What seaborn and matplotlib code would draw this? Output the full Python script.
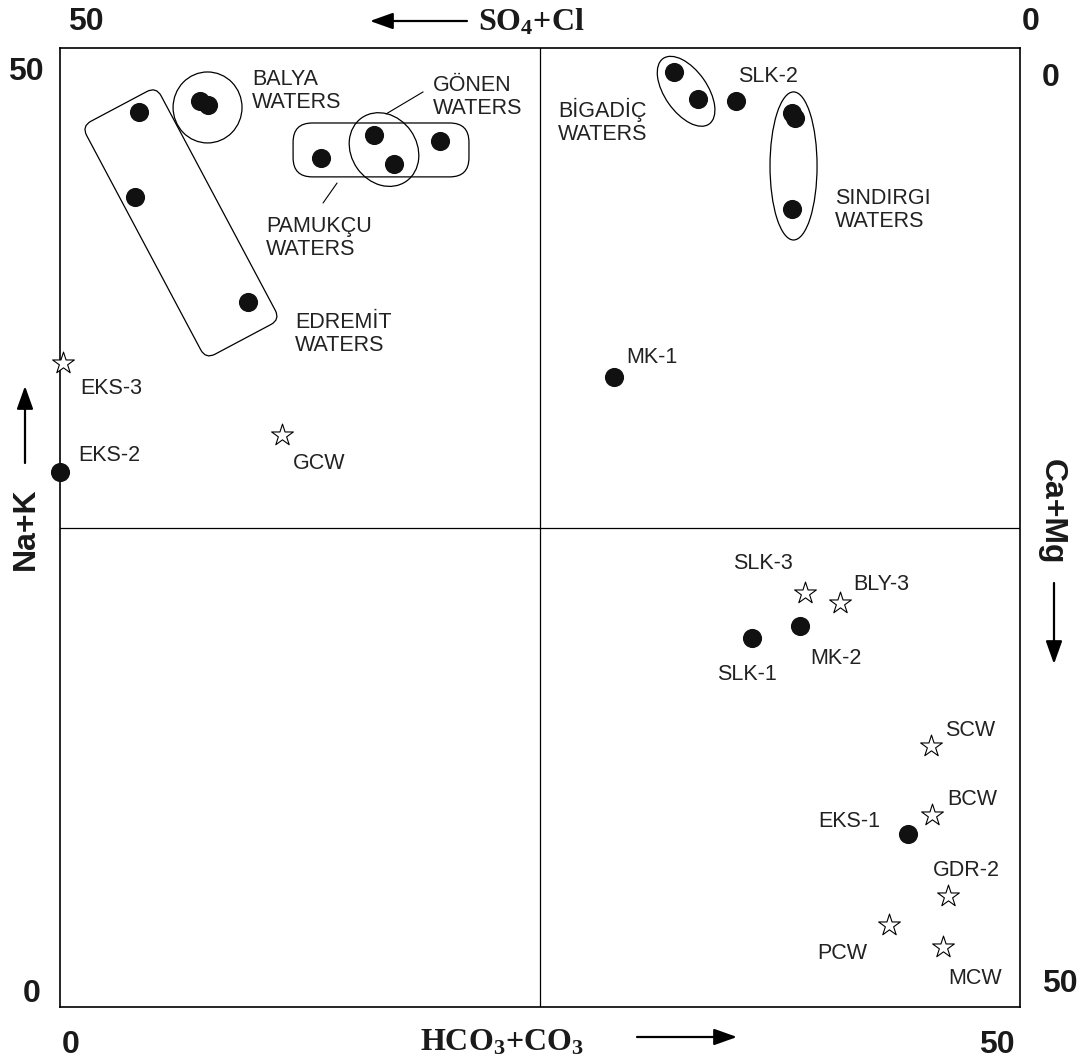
"""
plot.py - Na+K / Ca+Mg vs HCO3+CO3 / SO4+Cl diagram of thermal and cold waters
"""

import numpy as np
import pandas as pd
import matplotlib
matplotlib.use('Agg')
import matplotlib.pyplot as plt
import seaborn as sns
from matplotlib.patches import Ellipse, FancyBboxPatch, FancyArrowPatch
from matplotlib.transforms import Affine2D

# ============================================================
# DATA (% meq)
# ============================================================

# thermal waters (filled circles)
hot_hco3 = [4.11, 3.91, 9.79, 7.29, 7.71, 13.59, 19.79, 16.35, 17.40, 31.98, 33.23,
            35.21, 38.13, 38.28, 38.13, 28.85, 0.00, 36.04, 38.54, 44.17]
hot_nak = [46.66, 42.23, 36.76, 47.24, 47.03, 44.27, 45.15, 45.46, 43.95, 48.75, 47.34,
           47.24, 46.61, 46.35, 41.61, 32.85, 27.89, 19.24, 19.86, 9.02]
hot_group = ['EDREMİT', 'EDREMİT', 'EDREMİT', 'BALYA', 'BALYA', 'PAMUKÇU', 'PAMUKÇU',
             'GÖNEN', 'GÖNEN', 'BİGADİÇ', 'BİGADİÇ', '', 'SINDIRGI', 'SINDIRGI', 'SINDIRGI',
             '', '', '', '', '']
hot_label = ['', '', '', '', '', '', '', '', '', '', '',
             'SLK-2', '', '', '', 'MK-1', 'EKS-2', 'SLK-1', 'MK-2', 'EKS-1']

# cold waters (open stars)
cold_hco3 = [0.16, 11.56, 38.80, 40.63, 45.36, 45.42, 46.25, 43.18, 45.99]
cold_nak = [33.58, 29.82, 21.58, 21.06, 13.61, 10.01, 5.79, 4.28, 3.13]
cold_label = ['EKS-3', 'GCW', 'SLK-3', 'BLY-3', 'SCW', 'BCW', 'GDR-2', 'PCW', 'MCW']

corner_ticks = ['0', '50']

hot = pd.DataFrame({'hco3': hot_hco3, 'nak': hot_nak, 'group': hot_group, 'label': hot_label})
cold = pd.DataFrame({'hco3': cold_hco3, 'nak': cold_nak, 'label': cold_label})

# ============================================================
# LAYOUT / STYLE
# ============================================================

# label offsets in pixels: (dx, dy, ha, va)
label_offsets = {
    'EKS-3': (17, -15, 'left', 'top'),
    'EKS-2': (18, 11, 'left', 'baseline'),
    'GCW': (11, -18, 'left', 'top'),
    'MK-1': (12, 14, 'left', 'baseline'),
    'SLK-2': (2, 19, 'left', 'baseline'),
    'SLK-3': (-12, 24, 'right', 'baseline'),
    'BLY-3': (13, 13, 'left', 'baseline'),
    'MK-2': (10, -22, 'left', 'top'),
    'SLK-1': (-35, -26, 'left', 'top'),
    'SCW': (14, 10, 'left', 'baseline'),
    'BCW': (15, 10, 'left', 'baseline'),
    'EKS-1': (-28, 7, 'right', 'baseline'),
    'GDR-2': (-15, 20, 'left', 'baseline'),
    'PCW': (-22, -18, 'right', 'top'),
    'MCW': (5, -21, 'left', 'top'),
}

# group outlines: shape, angle, pad along (lo, hi), pad across (lo, hi), corner rounding
outlines = {
    'EDREMİT': ('box', -62, (0.75, 1.6), (0.72, 1.05), 0.55),
    'BALYA': ('ellipse', 0, (1.40, 1.77), (1.98, 1.51), 0),
    'PAMUKÇU': ('box', 0, (1.45, 1.51), (0.99, 0.94), 1.0),
    'GÖNEN': ('ellipse', -55, (1.1, 1.1), (1.7, 1.7), 0),
    'BİGADİÇ': ('ellipse', -55, (0.90, 1.40), (1.17, 0.83), 0),
    'SINDIRGI': ('ellipse', 90, (1.62, 1.10), (1.15, 1.15), 0),
}

# group label anchors (data units: left x, baseline of first line)
group_text = {
    'BALYA': (10.00, 48.07),
    'GÖNEN': (19.43, 47.76),
    'PAMUKÇU': (10.73, 40.41),
    'EDREMİT': (12.24, 35.40),
    'BİGADİÇ': (25.94, 46.40),
    'SINDIRGI': (40.36, 41.87),
}
leaders = {
    'GÖNEN': ((16.98, 46.56), (18.91, 47.71)),
    'PAMUKÇU': ((14.43, 42.96), (13.70, 41.92)),
}

sns.set_style('white')
plt.rcParams['font.family'] = ['Liberation Sans', 'DejaVu Sans']
plt.rcParams['mathtext.fontset'] = 'custom'
plt.rcParams['mathtext.rm'] = 'Liberation Serif:bold'
plt.rcParams['mathtext.bf'] = 'Liberation Serif:bold'
plt.rcParams['mathtext.it'] = 'Liberation Serif:bold'
plt.rcParams['mathtext.default'] = 'rm'

W, H = 1083, 1064
fig = plt.figure(figsize=(W / 100, H / 100), dpi=100)
ax = fig.add_axes([60 / W, 57 / H, 960 / W, 959 / H])
ax.set_xlim(0, 50)
ax.set_ylim(0, 50)
ax.set_xticks([])
ax.set_yticks([])
for sp in ax.spines.values():
    sp.set_color('black')
    sp.set_linewidth(1.2)

ax.axvline(25, color='black', lw=0.9, zorder=1)
ax.axhline(25, color='black', lw=0.9, zorder=1)


def outline(ax, xs, ys, shape, angle, pad_u, pad_v, rounding):
    # enclose group points in a frame rotated by angle
    t = np.deg2rad(angle)
    u = xs * np.cos(t) + ys * np.sin(t)
    v = -xs * np.sin(t) + ys * np.cos(t)
    u0, u1 = u.min() - pad_u[0], u.max() + pad_u[1]
    v0, v1 = v.min() - pad_v[0], v.max() + pad_v[1]
    rot = Affine2D().rotate_deg(angle) + ax.transData
    if shape == 'ellipse':
        patch = Ellipse(((u0 + u1) / 2, (v0 + v1) / 2), u1 - u0, v1 - v0,
                        transform=rot, fill=False, ec='black', lw=0.9, zorder=2)
    else:
        patch = FancyBboxPatch((u0, v0), u1 - u0, v1 - v0,
                               boxstyle=f'round,pad=0,rounding_size={rounding}',
                               transform=rot, fill=False, ec='black', lw=0.9, zorder=2)
    ax.add_patch(patch)


for g, (shape, ang, pu, pv, r) in outlines.items():
    sub = hot[hot['group'] == g]
    outline(ax, sub['hco3'].values, sub['nak'].values, shape, ang, pu, pv, r)

# ============================================================
# POINTS
# ============================================================

sns.scatterplot(data=hot, x='hco3', y='nak', marker='o', s=190, color='#111111',
                linewidth=0, ax=ax, zorder=4, clip_on=False, legend=False)
sns.scatterplot(data=cold, x='hco3', y='nak', marker='*', s=270, color='white',
                edgecolor='black', linewidth=0.8, ax=ax, zorder=4, clip_on=False, legend=False)

lab_kw = dict(fontsize=15.5, color='#222222')
for df in (hot, cold):
    for _, row in df.iterrows():
        if row['label'] == '':
            continue
        dx, dy, ha, va = label_offsets[row['label']]
        ax.annotate(row['label'], (row['hco3'], row['nak']), xytext=(dx, dy),
                    textcoords='offset pixels', ha=ha, va=va, **lab_kw)

line_gap = 1.2
for g, (gx, gy) in group_text.items():
    ax.text(gx, gy, g, ha='left', va='baseline', **lab_kw)
    ax.text(gx, gy - line_gap, 'WATERS', ha='left', va='baseline', **lab_kw)

for g, (p0, p1) in leaders.items():
    ax.plot([p0[0], p1[0]], [p0[1], p1[1]], color='black', lw=0.8, zorder=2)

# ============================================================
# AXIS TEXT
# ============================================================


def ftext(x, y, s, **kw):
    fig.text(x / W, 1 - y / H, s, ha='center', va='center', **kw)


num_kw = dict(fontsize=23, fontweight='bold', color='#1a1a1a')
ftext(86, 22, corner_ticks[1], **num_kw)
ftext(1031, 22, corner_ticks[0], **num_kw)
ftext(26, 72, corner_ticks[1], **num_kw)
ftext(32, 994, corner_ticks[0], **num_kw)
ftext(1051, 78, corner_ticks[0], **num_kw)
ftext(1060, 984, corner_ticks[1], **num_kw)
ftext(71, 1045, corner_ticks[0], **num_kw)
ftext(997, 1045, corner_ticks[1], **num_kw)

chem_kw = dict(fontsize=23, fontweight='bold', color='#1a1a1a', family='Liberation Serif')
ftext(531, 22, r'SO$_4$+Cl', **chem_kw)
ftext(502, 1043, r'HCO$_3$+CO$_3$', **chem_kw)
ftext(26, 529, 'Na+K', rotation=90, **num_kw)
ftext(1052, 512, 'Ca+Mg', rotation=270, **num_kw)


def farrow(x0, y0, x1, y1):
    fig.add_artist(FancyArrowPatch(
        (x0 / W, 1 - y0 / H), (x1 / W, 1 - y1 / H), transform=fig.transFigure,
        arrowstyle='-|>,head_length=0.7,head_width=0.25', mutation_scale=20,
        color='black', lw=1.6, shrinkA=0, shrinkB=0))


farrow(467, 21, 370, 21)
farrow(637, 1037, 737, 1037)
farrow(25, 463, 25, 386)
farrow(1054, 583, 1054, 664)

plt.savefig('out.png', dpi=100)
print("saved out.png")
